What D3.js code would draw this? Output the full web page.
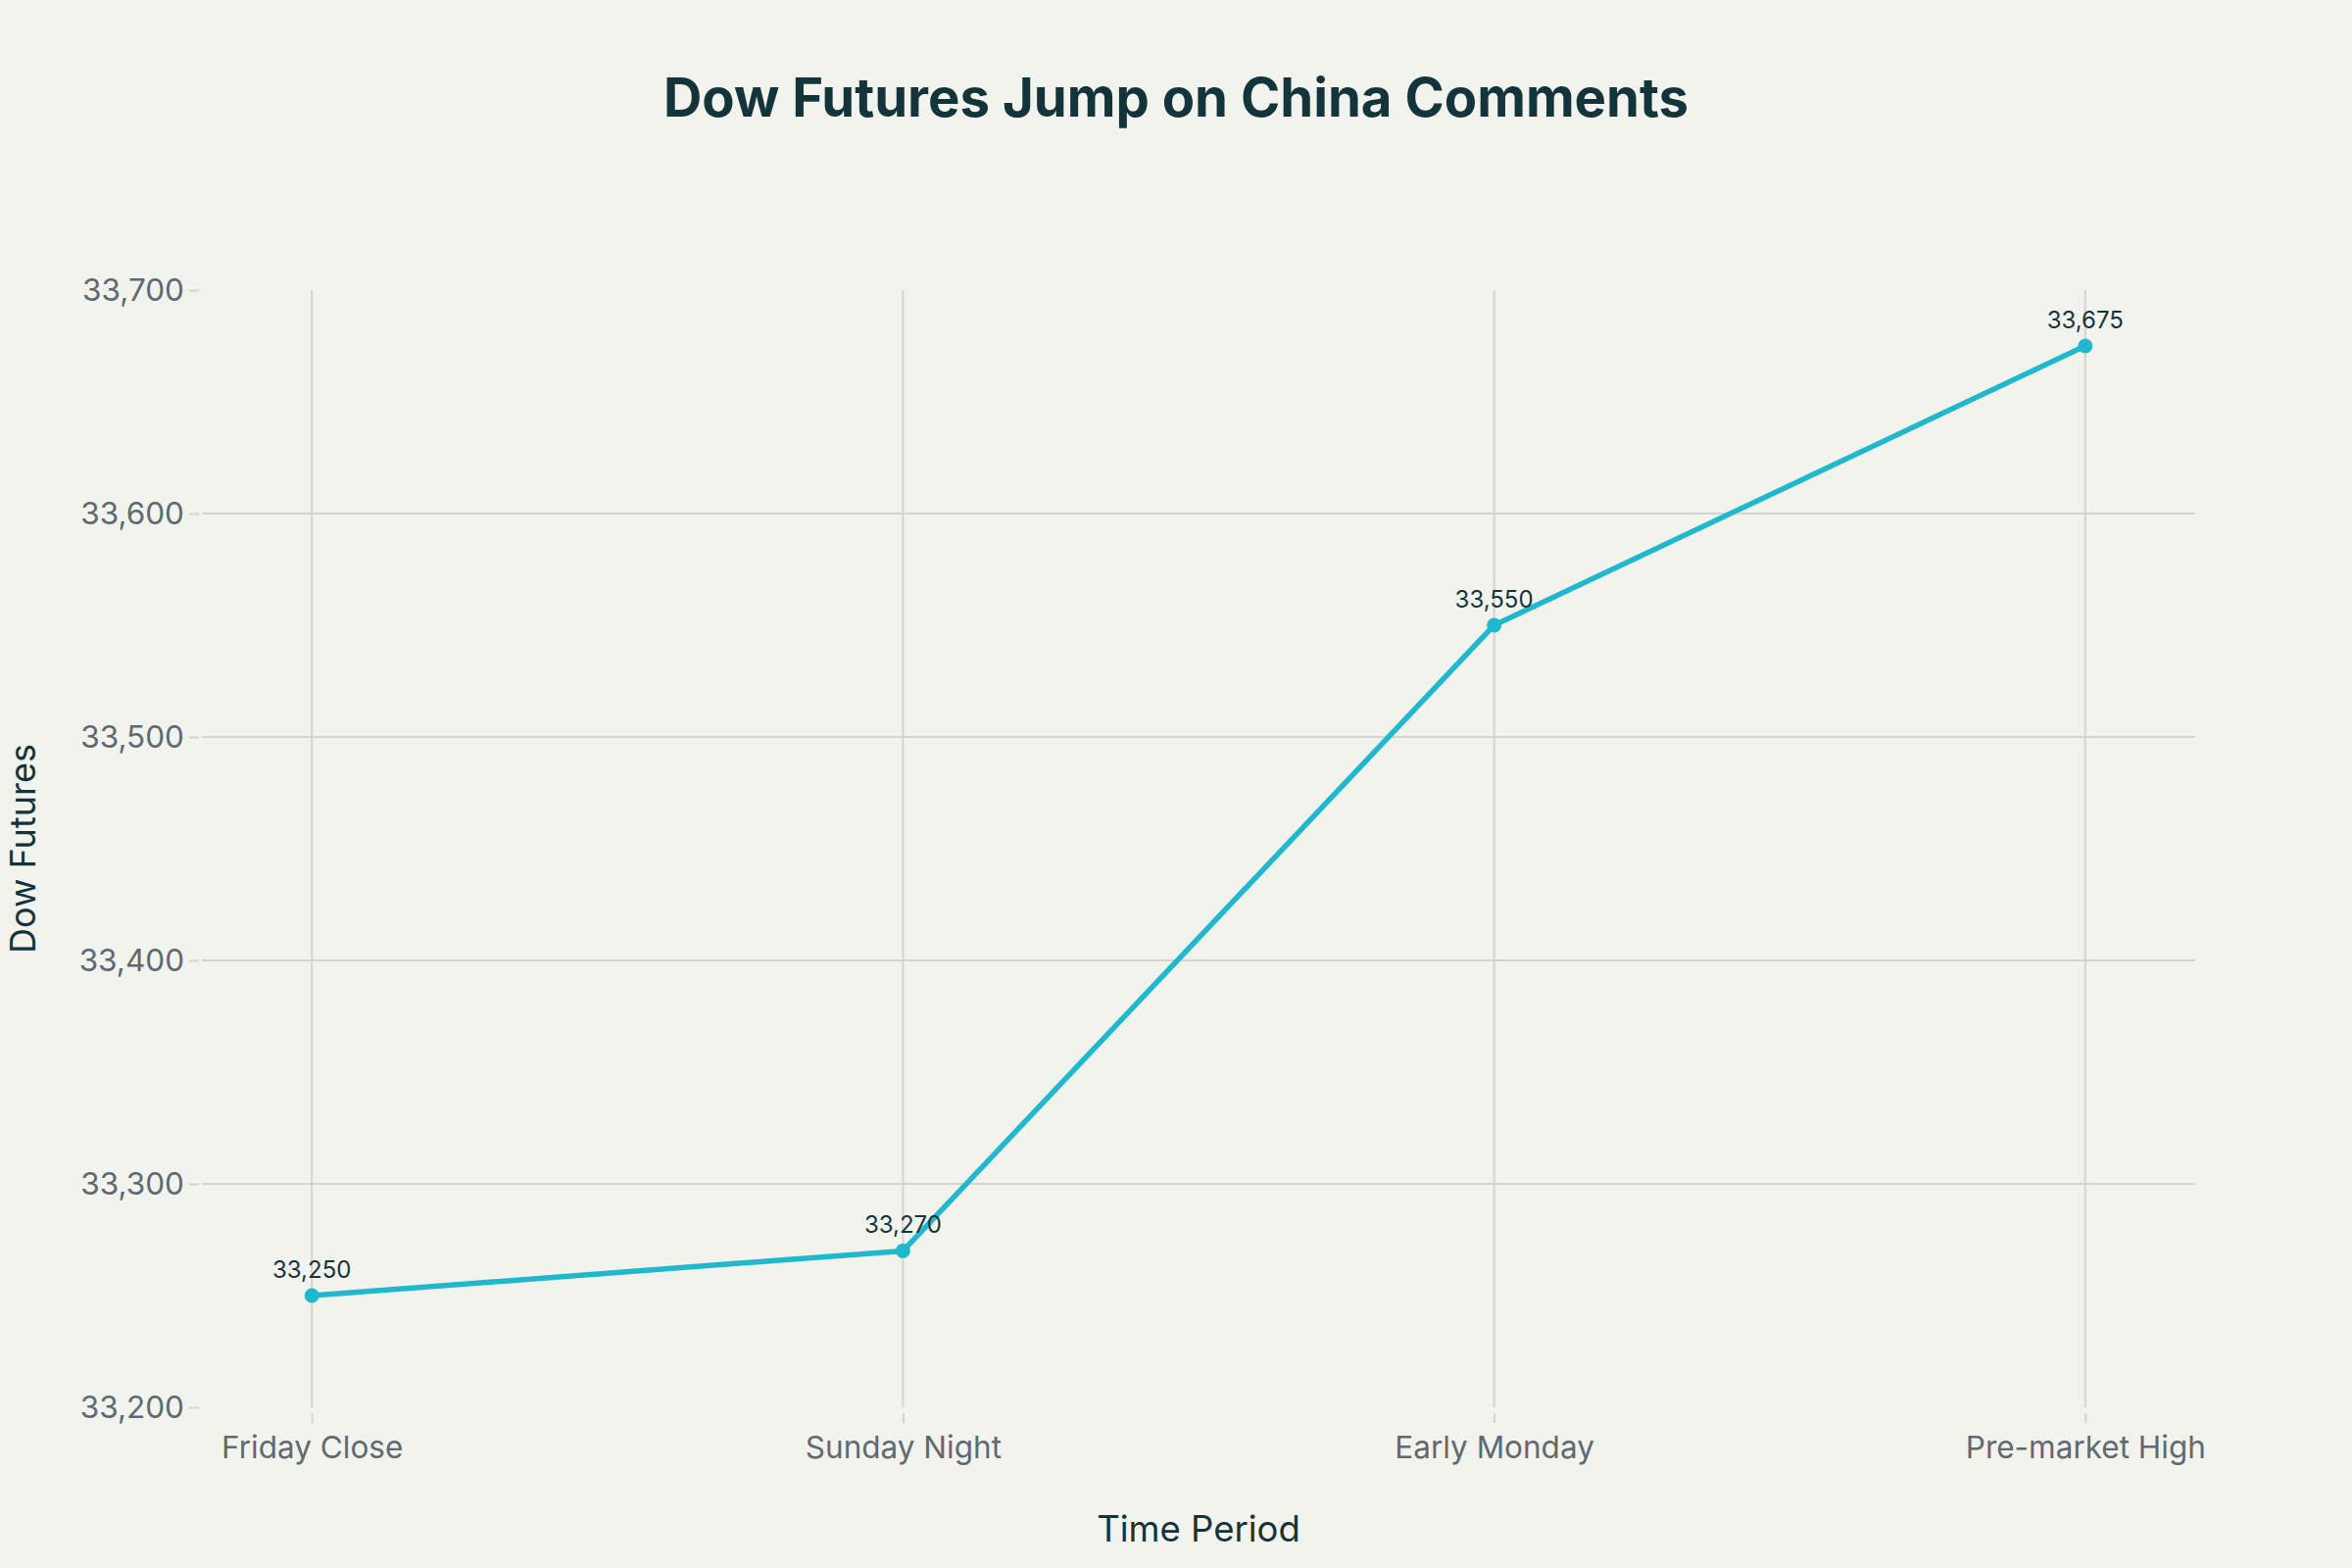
<!DOCTYPE html>
<html>
<head>
<meta charset="utf-8">
<script src="https://cdnjs.cloudflare.com/ajax/libs/d3/7.8.5/d3.min.js"></script>
<style>
  body { margin: 0; background: #F3F3EE; }
  svg text { font-family: Inter, "Liberation Sans", sans-serif; }
</style>
</head>
<body>
<svg id="mainsvg" width="2400" height="1600"></svg>
<script>
// data
const periods = ['Friday Close', 'Sunday Night', 'Early Monday', 'Pre-market High'];
const futures = [33250, 33270, 33550, 33675];
const yTicks = [33200, 33300, 33400, 33500, 33600, 33700];

var svg = d3.select("#mainsvg"),
    margin = {top: 296, right: 160, bottom: 164, left: 206},
    width = svg.attr("width") - margin.left - margin.right,
    height = svg.attr("height") - margin.top - margin.bottom;

svg.append('rect').attr('width', 2400).attr('height', 1600).attr('fill', '#F3F3EE')

var g = svg.append("g")
    .attr('transform', 'translate(' + margin.left + ',' + margin.top + ')')

var data = periods.map((p, i) => ({period: p, value: futures[i]}))

// scales
var xScale = d3.scalePoint()
    .domain(periods)
    .range([0, width])
    .padding(0.186)

var yScale = d3.scaleLinear()
    .domain([33200, 33700])
    .range([height, 0])

// grid (no lines on the plot edges)
g.append('g').selectAll('line.hgrid')
    .data(yTicks.slice(1, -1))
    .enter().append('line')
    .attr('x1', 0).attr('x2', width)
    .attr('y1', d => yScale(d)).attr('y2', d => yScale(d))
    .attr('stroke', '#d3d3cf').attr('stroke-width', 2)

g.append('g').selectAll('line.vgrid')
    .data(periods)
    .enter().append('line')
    .attr('x1', d => xScale(d)).attr('x2', d => xScale(d))
    .attr('y1', 0).attr('y2', height)
    .attr('stroke', '#d3d3cf').attr('stroke-width', 2)

// axes
var yAxis = g.append('g')
    .call(d3.axisLeft(yScale).tickValues(yTicks).tickFormat(d3.format(',')).tickSize(10).tickPadding(8))
yAxis.select('.domain').remove()
yAxis.selectAll('.tick line').attr('stroke', '#d3d3cf').attr('stroke-width', 2).attr('transform', 'translate(-3,0)')
yAxis.selectAll('.tick text').attr('fill', '#5d6a72').style('font-size', '31.5px').attr('dy', '0.34em')

var xAxis = g.append('g')
    .attr('transform', 'translate(0,' + height + ')')
    .call(d3.axisBottom(xScale).tickSize(16).tickPadding(14))
xAxis.select('.domain').remove()
xAxis.selectAll('.tick line').attr('stroke', '#d3d3cf').attr('stroke-width', 2).attr('y1', 6)
xAxis.selectAll('.tick text').attr('fill', '#5d6a72').style('font-size', '31.5px')

// line
var line = d3.line()
    .x(d => xScale(d.period))
    .y(d => yScale(d.value))

g.append('path')
    .datum(data)
    .attr('d', line)
    .attr('fill', 'none')
    .attr('stroke', '#1FB8CD')
    .attr('stroke-width', 5.5)
    .attr('stroke-linejoin', 'round')

g.append('g').selectAll('circle')
    .data(data)
    .enter().append('circle')
    .attr('cx', d => xScale(d.period))
    .attr('cy', d => yScale(d.value))
    .attr('r', 7.5)
    .attr('fill', '#1FB8CD')

g.append('g').selectAll('text')
    .data(data)
    .enter().append('text')
    .attr('x', d => xScale(d.period))
    .attr('y', d => yScale(d.value) - 18)
    .attr('text-anchor', 'middle')
    .attr('fill', '#13343B')
    .style('font-size', '24px')
    .text(d => d3.format(',')(d.value))

// titles
svg.append('text')
    .attr('x', 1200).attr('y', 119)
    .attr('text-anchor', 'middle')
    .attr('fill', '#13343B')
    .style('font-size', '54.5px').style('font-weight', 700)
    .text('Dow Futures Jump on China Comments')

svg.append('text')
    .attr('x', 1223).attr('y', 1573)
    .attr('text-anchor', 'middle')
    .attr('fill', '#13343B')
    .style('font-size', '36.5px')
    .text('Time Period')

svg.append('text')
    .attr('transform', 'translate(36,866) rotate(-90)')
    .attr('text-anchor', 'middle')
    .attr('fill', '#13343B')
    .style('font-size', '36px')
    .text('Dow Futures')
</script>
</body>
</html>
